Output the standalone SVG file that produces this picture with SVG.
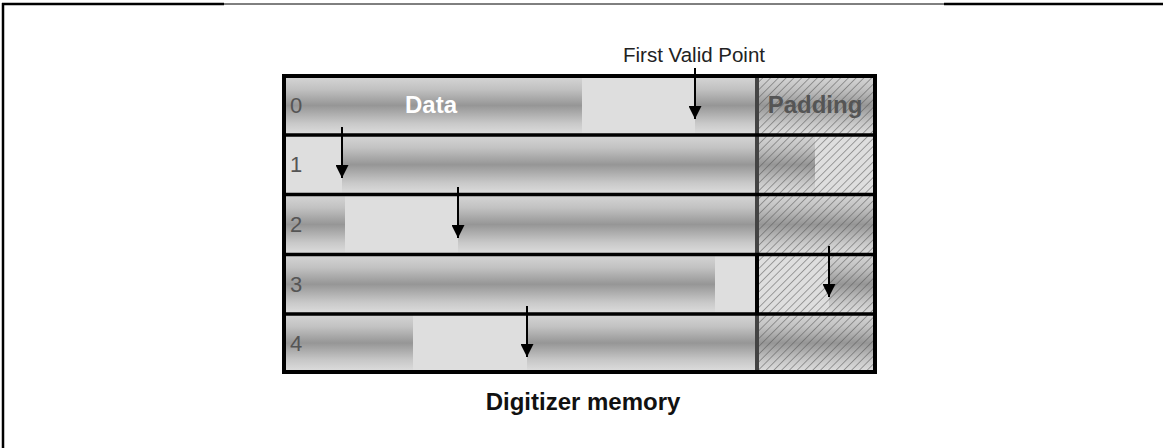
<svg xmlns="http://www.w3.org/2000/svg" width="1163" height="448" viewBox="0 0 1163 448">
<style>
.lite{fill:#dedede}
.grad{fill:url(#cyl)}
.hatch{fill:url(#hatch)}
.sep{stroke:#000;stroke-width:3.5}
.div{stroke:#444;stroke-width:4}
.num{font-family:"Liberation Sans",Arial,sans-serif;font-size:22px;fill:#555}
.bold{font-family:"Liberation Sans",Arial,sans-serif;font-size:24px;font-weight:bold}
.lbl{font-family:"Liberation Sans",Arial,sans-serif;font-size:20.5px;fill:#222}
.arr{stroke:#000;stroke-width:2;fill:none;marker-end:url(#ah)}
</style>
<defs>
<linearGradient id="cyl" x1="0" y1="0" x2="0" y2="1">
<stop offset="0" stop-color="#d6d6d6"/>
<stop offset="0.22" stop-color="#c2c2c2"/>
<stop offset="0.5" stop-color="#969696"/>
<stop offset="0.8" stop-color="#c8c8c8"/>
<stop offset="1" stop-color="#dedede"/>
</linearGradient>
<pattern id="hatch" width="5.5" height="5.5" patternUnits="userSpaceOnUse" patternTransform="rotate(45)">
<line x1="0" y1="0" x2="0" y2="5.5" stroke="#555" stroke-width="1"/>
</pattern>
<marker id="ah" viewBox="0 0 14 14" refX="14" refY="7" markerWidth="14" markerHeight="13" markerUnits="userSpaceOnUse" orient="auto">
<path d="M0,0 L14,7 L0,14 z" fill="#000"/>
</marker>
</defs>
<rect width="1163" height="448" fill="#fff"/>
<g id="frame">
<line x1="2" y1="4" x2="224" y2="4" stroke="#000" stroke-width="2.5"/>
<line x1="224" y1="4" x2="944" y2="4" stroke="#000" stroke-width="1"/>
<line x1="944" y1="4" x2="1163" y2="4" stroke="#000" stroke-width="2.5"/>
<line x1="3" y1="3" x2="3" y2="448" stroke="#000" stroke-width="2.5"/>
</g>
<g id="row0">
<rect class="grad" x="284" y="76" width="298" height="59"/>
<rect class="lite" x="582" y="76" width="113" height="59"/>
<rect class="grad" x="695" y="76" width="62" height="59"/>
<rect class="grad" x="757" y="76" width="118" height="59"/>
<rect class="hatch" x="757" y="76" width="118" height="59"/>
<text class="num" x="290" y="113">0</text>
<text class="bold" x="431" y="113" text-anchor="middle" fill="#fff">Data</text>
<text class="bold" x="815" y="113" text-anchor="middle" fill="#555">Padding</text>
</g>
<g id="row1">
<rect class="lite" x="284" y="135" width="58" height="59.5"/>
<rect class="grad" x="342" y="135" width="415" height="59.5"/>
<rect class="grad" x="757" y="135" width="58" height="59.5"/>
<rect class="lite" x="815" y="135" width="60" height="59.5"/>
<rect class="hatch" x="757" y="135" width="118" height="59.5"/>
<text class="num" x="290" y="172">1</text>
</g>
<g id="row2">
<rect class="grad" x="284" y="194.5" width="61" height="60"/>
<rect class="lite" x="345" y="194.5" width="113" height="60"/>
<rect class="grad" x="458" y="194.5" width="299" height="60"/>
<rect class="grad" x="757" y="194.5" width="118" height="60"/>
<rect class="hatch" x="757" y="194.5" width="118" height="60"/>
<text class="num" x="290" y="232">2</text>
</g>
<g id="row3">
<rect class="grad" x="284" y="254.5" width="431" height="59.5"/>
<rect class="lite" x="715" y="254.5" width="42" height="59.5"/>
<rect class="lite" x="757" y="254.5" width="72" height="59.5"/>
<rect class="grad" x="829" y="254.5" width="46" height="59.5"/>
<rect class="hatch" x="757" y="254.5" width="118" height="59.5"/>
<text class="num" x="290" y="292">3</text>
</g>
<g id="row4">
<rect class="grad" x="284" y="314" width="129" height="58"/>
<rect class="lite" x="413" y="314" width="114" height="58"/>
<rect class="grad" x="527" y="314" width="230" height="58"/>
<rect class="grad" x="757" y="314" width="118" height="58"/>
<rect class="hatch" x="757" y="314" width="118" height="58"/>
<text class="num" x="290" y="351">4</text>
</g>
<g id="grid">
<line class="div" x1="757" y1="76" x2="757" y2="254.5"/>
<line x1="757" y1="254.5" x2="757" y2="314" stroke="#000" stroke-width="4"/>
<line class="div" x1="757" y1="314" x2="757" y2="372"/>
<line class="sep" x1="284" y1="135" x2="875" y2="135"/>
<line class="sep" x1="284" y1="194.5" x2="875" y2="194.5"/>
<line class="sep" x1="284" y1="254.5" x2="875" y2="254.5"/>
<line class="sep" x1="284" y1="314" x2="875" y2="314"/>
<rect x="284" y="76" width="591" height="296" fill="none" stroke="#000" stroke-width="4"/>
</g>
<g id="connectors">
<line class="arr" x1="695" y1="68" x2="695" y2="119"/>
<line class="arr" x1="342" y1="127" x2="342" y2="178"/>
<line class="arr" x1="458" y1="187" x2="458" y2="238"/>
<line class="arr" x1="829" y1="246" x2="829" y2="297"/>
<line class="arr" x1="527" y1="306" x2="527" y2="357"/>
</g>
<g id="labels">
<text class="lbl" x="694" y="62" text-anchor="middle">First Valid Point</text>
<text class="bold" x="583" y="410" text-anchor="middle" fill="#111">Digitizer memory</text>
</g>
</svg>
